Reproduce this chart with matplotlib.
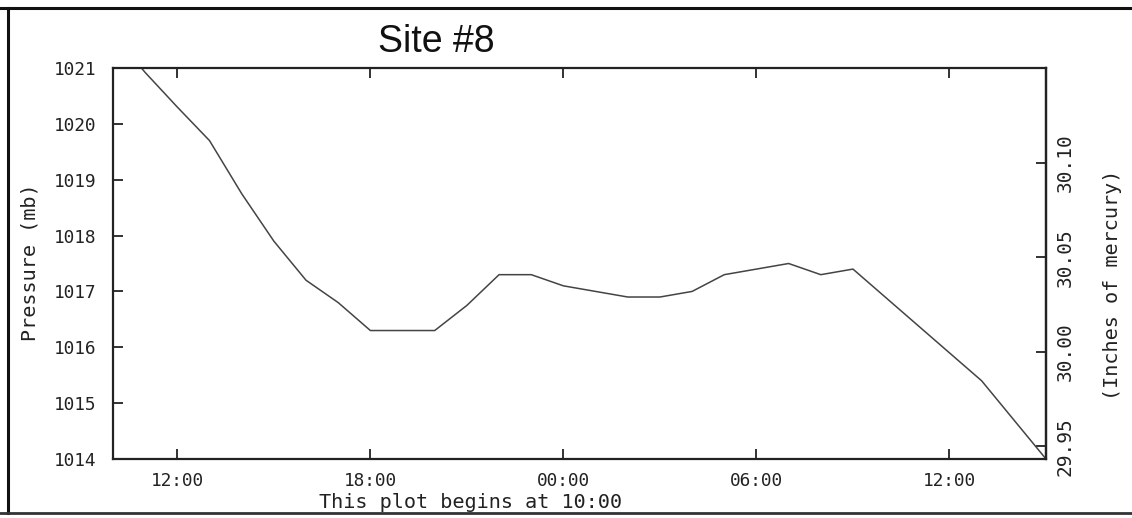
import matplotlib
matplotlib.use("Agg")
import matplotlib.pyplot as plt
from matplotlib.lines import Line2D

# ---- data ----
hours = list(range(0, 30))  # hours after 10:00
pressure_mb = [1021.6, 1020.92, 1020.3, 1019.7, 1018.75, 1017.9, 1017.2, 1016.8,
               1016.3, 1016.3, 1016.3, 1016.75, 1017.3, 1017.3, 1017.1, 1017.0,
               1016.9, 1016.9, 1017.0, 1017.3, 1017.4, 1017.5, 1017.3, 1017.4,
               1016.9, 1016.4, 1015.9, 1015.4, 1014.7, 1014.0]
x_tick_pos = [2, 8, 14, 20, 26]
x_tick_labels = ["12:00", "18:00", "00:00", "06:00", "12:00"]
y_ticks = [1014, 1015, 1016, 1017, 1018, 1019, 1020, 1021]
inhg_ticks = [29.95, 30.00, 30.05, 30.10]
title = "Site #8"

MB_PER_INHG = 33.8639

W, H = 1132, 518
fig = plt.figure(figsize=(W / 100, H / 100), dpi=100)
fig.patch.set_facecolor("white")

L, R, T, B = 113, 1046, 68, 459
ax = fig.add_axes([L / W, 1 - B / H, (R - L) / W, (B - T) / H])

mono = "DejaVu Sans Mono"
fs = 12.8
fsl = 14.5
dark = "#222222"

ax.plot(hours, pressure_mb, color="#444444", lw=1.1, clip_on=True)
ax.set_xlim(0, 29)
ax.set_ylim(1014, 1021)

ax.set_xticks(x_tick_pos)
ax.set_xticklabels(x_tick_labels, family=mono, fontsize=fs)
ax.set_yticks(y_ticks)
ax.set_yticklabels([str(v) for v in y_ticks], family=mono, fontsize=fs)
ax.tick_params(axis="x", direction="in", length=7, width=1.3, color=dark,
               top=True, pad=9, labelcolor=dark)
ax.tick_params(axis="y", direction="in", length=7, width=1.3, color=dark,
               pad=12, labelcolor=dark)
for s in ax.spines.values():
    s.set_linewidth(1.6)
    s.set_color(dark)

fig.text(30 / W, 1 - 262 / H, "Pressure (mb)", family=mono, fontsize=fsl,
         color=dark, rotation=90, ha="center", va="center")
fig.text(471 / W, 1 - 503 / H, "This plot begins at 10:00", family=mono,
         fontsize=fsl, color=dark, ha="center", va="center")

sec = ax.secondary_yaxis("right", functions=(lambda m: m / MB_PER_INHG,
                                              lambda i: i * MB_PER_INHG))
sec.set_yticks(inhg_ticks)
sec.set_yticklabels([f"{v:.2f}" for v in inhg_ticks], family=mono, fontsize=14,
                    rotation=90, va="center")
sec.tick_params(axis="y", direction="in", length=7, width=1.3, color=dark,
                pad=7, labelcolor=dark)
sec.spines["right"].set_linewidth(1.6)
sec.spines["right"].set_color(dark)

fig.text(1112 / W, 1 - 285 / H, "(Inches of mercury)", family=mono,
         fontsize=fsl, color=dark, rotation=90, ha="center", va="center")

fig.text(436 / W, 1 - 52 / H, title, family="Liberation Sans", fontsize=27,
         ha="center", va="baseline", color="#111111")

# scanned-page border lines
fig.add_artist(Line2D([0, 1], [1 - 8 / H, 1 - 8 / H], transform=fig.transFigure,
                      color="#111111", lw=2.2))
fig.add_artist(Line2D([8 / W, 8 / W], [1 - 8 / H, 1 - 513 / H], transform=fig.transFigure,
                      color="#111111", lw=2.2))
fig.add_artist(Line2D([0, 1], [1 - 513 / H, 1 - 513 / H], transform=fig.transFigure,
                      color="#333333", lw=2.0))

fig.savefig("out.png", dpi=100)
